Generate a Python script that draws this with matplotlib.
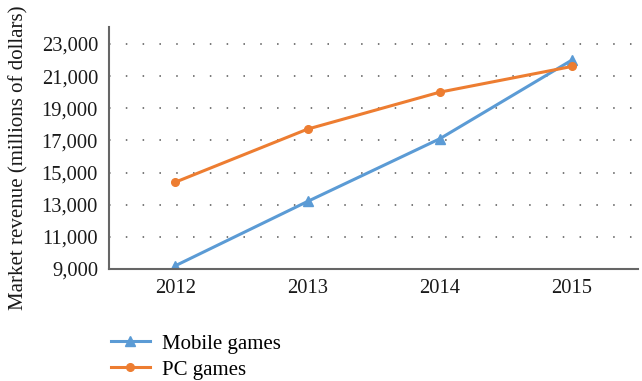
import matplotlib
matplotlib.use("Agg")
import matplotlib.pyplot as plt

# revenue by year, millions of dollars
years = ["2012", "2013", "2014", "2015"]
mobile = [9200, 13200, 17100, 22000]
pc = [14400, 17700, 20000, 21600]
yticks = [9000, 11000, 13000, 15000, 17000, 19000, 21000, 23000]

plt.rcParams["font.family"] = ["Liberation Serif", "DejaVu Serif"]

fig = plt.figure(figsize=(6.42, 3.81), dpi=100)
ax = fig.add_axes([0.170, 0.294, 0.824, 0.635])

x = range(len(years))
ax.plot(x, mobile, color="#5B9BD5", lw=2.2, marker="^", ms=7, label="Mobile games")
ax.plot(x, pc, color="#ED7D31", lw=2.2, marker="o", ms=5.5, label="PC games")

ax.set_xlim(-0.5, 3.5)
ax.set_ylim(9000, 24050)
ax.set_xticks(list(x))
ax.set_xticklabels(years)
ax.set_yticks(yticks)
ax.set_yticklabels([f"{v:,}" for v in yticks])
ax.tick_params(length=0, labelsize=14.8, colors="#1a1a1a", pad=7)
ax.tick_params(axis="y", pad=8)
ax.grid(axis="y", color="#555555", linestyle=(0, (1, 10)), lw=1.1)
ax.set_axisbelow(True)

for s in ["top", "right"]:
    ax.spines[s].set_visible(False)
for s in ["left", "bottom"]:
    ax.spines[s].set_color("#666666")
    ax.spines[s].set_linewidth(1.5)

ax.set_ylabel("Market revenue (millions of dollars)", fontsize=15, color="#1a1a1a")
ax.yaxis.set_label_coords(-0.152, 0.46)

ax.legend(loc="upper left", bbox_to_anchor=(-0.013, -0.235), frameon=False,
          fontsize=15, handlelength=1.9, labelspacing=0.3, handletextpad=0.55,
          borderaxespad=0)

fig.savefig("out.png", dpi=100)
